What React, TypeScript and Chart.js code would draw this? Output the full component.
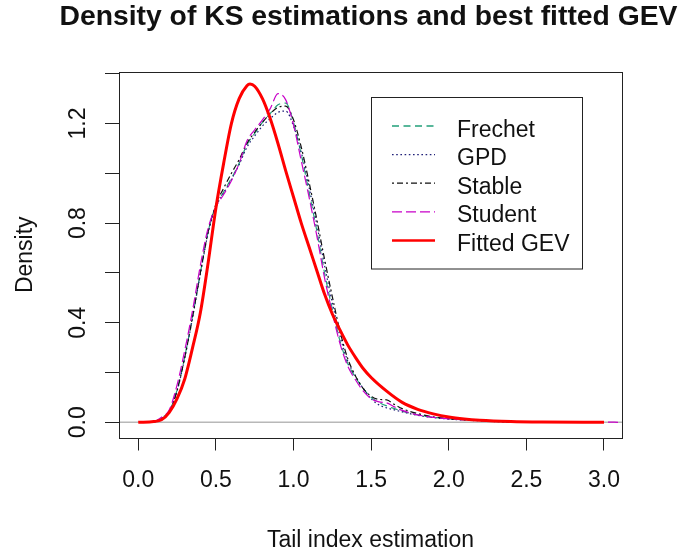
import React, { useEffect, useRef } from "react";
import { Chart, registerables } from "chart.js";

Chart.register(...registerables);

const TITLE = "Density of KS estimations and best fitted GEV";
const X_TITLE = "Tail index estimation";
const Y_TITLE = "Density";

const X_TICKS = [0, 0.5, 1.0, 1.5, 2.0, 2.5, 3.0];
const Y_TICKS = [0, 0.2, 0.4, 0.6, 0.8, 1.0, 1.2, 1.4];
const Y_TICK_LABELS = [0, 0.4, 0.8, 1.2];

const X_MIN = -0.124;
const X_MAX = 3.116;
const Y_MIN = -0.061;
const Y_MAX = 1.407;

const SERIES_NAMES = ["Frechet", "GPD", "Stable", "Student", "Fitted GEV"];

const KS_X = [0.10, 0.15, 0.20, 0.25, 0.30, 0.35, 0.40, 0.45, 0.50, 0.55, 0.60, 0.65, 0.70, 0.75, 0.80, 0.85, 0.90, 0.95, 1.00, 1.05, 1.10, 1.15, 1.20, 1.25, 1.30, 1.35, 1.40, 1.45, 1.50, 1.55, 1.60, 1.65, 1.70, 1.80, 1.90, 2.00, 2.10, 2.20, 2.30, 2.40];

const FRECHET = [0, 0.018, 0.045, 0.13, 0.265, 0.425, 0.6, 0.765, 0.87, 0.925, 0.98, 1.04, 1.115, 1.16, 1.205, 1.24, 1.275, 1.282, 1.205, 1.075, 0.925, 0.77, 0.6, 0.455, 0.325, 0.235, 0.18, 0.135, 0.1, 0.08, 0.066, 0.055, 0.045, 0.03, 0.02, 0.014, 0.01, 0.007, 0.004, 0];

const GPD = [0, 0.016, 0.042, 0.125, 0.26, 0.42, 0.595, 0.76, 0.865, 0.92, 0.975, 1.035, 1.105, 1.15, 1.19, 1.22, 1.245, 1.25, 1.19, 1.085, 0.945, 0.795, 0.63, 0.48, 0.345, 0.245, 0.185, 0.135, 0.095, 0.07, 0.058, 0.05, 0.042, 0.028, 0.019, 0.013, 0.009, 0.006, 0.003, 0];

const STABLE = [0, 0.015, 0.043, 0.128, 0.262, 0.425, 0.6, 0.765, 0.875, 0.94, 1.0, 1.055, 1.12, 1.165, 1.205, 1.24, 1.265, 1.27, 1.215, 1.105, 0.965, 0.815, 0.655, 0.505, 0.365, 0.255, 0.185, 0.135, 0.105, 0.092, 0.09, 0.072, 0.055, 0.035, 0.022, 0.015, 0.011, 0.008, 0.005, 0];

const STUDENT_X = [0.10, 0.15, 0.20, 0.25, 0.30, 0.35, 0.40, 0.45, 0.50, 0.55, 0.60, 0.65, 0.70, 0.75, 0.80, 0.85, 0.90, 0.95, 1.00, 1.05, 1.10, 1.15, 1.20, 1.25, 1.30, 1.35, 1.40, 1.45, 1.50, 1.55, 1.60, 1.65, 1.70, 1.80, 1.90, 2.00, 2.10, 2.20, 2.30, 2.40, 2.60, 2.80, 3.00, 3.10];

const STUDENT = [0, 0.02, 0.05, 0.15, 0.29, 0.45, 0.63, 0.78, 0.865, 0.915, 0.97, 1.04, 1.13, 1.175, 1.215, 1.26, 1.32, 1.295, 1.195, 1.05, 0.905, 0.75, 0.58, 0.44, 0.315, 0.225, 0.17, 0.125, 0.095, 0.082, 0.078, 0.062, 0.048, 0.03, 0.02, 0.014, 0.01, 0.007, 0.005, 0.003, 0.002, 0.001, 0.001, 0];

const GEV_X = [0, 0.10, 0.15, 0.20, 0.25, 0.30, 0.35, 0.40, 0.45, 0.50, 0.55, 0.60, 0.65, 0.70, 0.72, 0.75, 0.80, 0.85, 0.90, 0.95, 1.00, 1.05, 1.10, 1.15, 1.20, 1.25, 1.30, 1.35, 1.40, 1.45, 1.50, 1.60, 1.70, 1.80, 1.90, 2.00, 2.10, 2.20, 2.40, 2.60, 3.00];

const GEV = [0, 0.003, 0.01, 0.04, 0.095, 0.175, 0.3, 0.44, 0.64, 0.86, 1.04, 1.2, 1.3, 1.352, 1.359, 1.35, 1.3, 1.22, 1.12, 1.01, 0.905, 0.8, 0.705, 0.61, 0.515, 0.435, 0.37, 0.31, 0.26, 0.215, 0.18, 0.125, 0.08, 0.052, 0.034, 0.021, 0.013, 0.008, 0.003, 0.001, 0];

const COLORS = ["#22a07a", "#202078", "#111111", "#c800c8", "#ff0000"];
const DASHES: number[][] = [[7, 4.5], [1.6, 2.6], [2, 3, 6, 3], [10, 4], []];
const WIDTHS = [1.2, 1.2, 1.2, 1.2, 3];

const FONT = "'Liberation Sans', Arial, sans-serif";

const pts = (xs: number[], ys: number[]) => xs.map((x, i) => ({ x, y: ys[i] }));

const decorPlugin = {
  id: "decor",
  beforeDatasetsDraw(chart: any) {
    const { ctx, chartArea, scales } = chart;
    const y0 = scales.y.getPixelForValue(0);
    ctx.save();
    ctx.beginPath();
    ctx.rect(chartArea.left, chartArea.top, chartArea.right - chartArea.left, chartArea.bottom - chartArea.top);
    ctx.clip();
    ctx.strokeStyle = "#b8b8b8";
    ctx.lineWidth = 1.5;
    ctx.beginPath();
    ctx.moveTo(chartArea.left, y0);
    ctx.lineTo(chartArea.right, y0);
    ctx.stroke();
    ctx.restore();
  },
  afterDraw(chart: any) {
    const { ctx, chartArea, scales } = chart;
    const cx = (chartArea.left + chartArea.right) / 2;
    const cy = (chartArea.top + chartArea.bottom) / 2;
    ctx.save();
    ctx.strokeStyle = "#222";
    ctx.lineWidth = 1;
    ctx.setLineDash([]);
    ctx.strokeRect(
      Math.round(chartArea.left) + 0.5,
      Math.round(chartArea.top) + 0.5,
      Math.round(chartArea.right - chartArea.left),
      Math.round(chartArea.bottom - chartArea.top)
    );
    ctx.fillStyle = "#111";
    ctx.font = `bold 28.3px ${FONT}`;
    ctx.textAlign = "center";
    ctx.textBaseline = "alphabetic";
    ctx.fillText(TITLE, cx - 2, 25);
    ctx.font = `23px ${FONT}`;
    ctx.fillText(X_TITLE, cx, 546.5);
    ctx.save();
    ctx.translate(32, cy);
    ctx.rotate(-Math.PI / 2);
    ctx.fillText(Y_TITLE, 0, 0);
    ctx.restore();
    for (const v of Y_TICK_LABELS) {
      const py = scales.y.getPixelForValue(v);
      ctx.save();
      ctx.translate(85, py);
      ctx.rotate(-Math.PI / 2);
      ctx.fillText(v.toFixed(1), 0, 0);
      ctx.restore();
    }
    const lx = 371.5, ly = 97.5, lw = 211, lh = 171.5;
    ctx.fillStyle = "#ffffff";
    ctx.fillRect(lx, ly, lw, lh);
    ctx.strokeStyle = "#222";
    ctx.lineWidth = 1;
    ctx.strokeRect(lx, ly, lw, lh);
    ctx.textAlign = "left";
    SERIES_NAMES.forEach((name, i) => {
      const base = 136.5 + i * 28.6;
      const yl = base - 10.5;
      ctx.strokeStyle = COLORS[i];
      ctx.lineWidth = i === 4 ? 2.5 : 1.3;
      ctx.setLineDash(DASHES[i]);
      ctx.beginPath();
      ctx.moveTo(392, yl);
      ctx.lineTo(435, yl);
      ctx.stroke();
      ctx.setLineDash([]);
      ctx.fillStyle = "#111";
      ctx.fillText(name, 457, base);
    });
    ctx.restore();
  },
};

export default function App() {
  const ref = useRef<HTMLCanvasElement | null>(null);
  useEffect(() => {
    if (!ref.current) return;
    const seriesX = [KS_X, KS_X, KS_X, STUDENT_X, GEV_X];
    const seriesY = [FRECHET, GPD, STABLE, STUDENT, GEV];
    const datasets = SERIES_NAMES.map((name, i) => ({
      label: name,
      data: pts(seriesX[i], seriesY[i]),
      borderColor: COLORS[i],
      borderWidth: WIDTHS[i],
      borderDash: DASHES[i],
      pointRadius: 0,
      fill: false,
      cubicInterpolationMode: "monotone" as const,
      order: i === 4 ? 0 : 5 - i,
    }));
    const chart = new Chart(ref.current, {
      type: "line",
      data: { datasets },
      plugins: [decorPlugin],
      options: {
        responsive: false,
        animation: false,
        layout: { padding: { left: 0, right: 63, top: 72, bottom: 0 } },
        plugins: {
          legend: { display: false },
          tooltip: { enabled: false },
          title: { display: false },
        },
        scales: {
          x: {
            type: "linear",
            min: X_MIN,
            max: X_MAX,
            afterBuildTicks: (s: any) => {
              s.ticks = X_TICKS.map((v) => ({ value: v }));
            },
            afterFit: (s: any) => {
              s.height = 113.5;
            },
            grid: {
              display: true,
              drawOnChartArea: false,
              drawTicks: true,
              tickLength: 13,
              color: "#222",
              lineWidth: 1,
            },
            border: { display: false },
            ticks: {
              autoSkip: false,
              maxRotation: 0,
              minRotation: 0,
              padding: 16,
              color: "#111",
              font: { family: FONT, size: 23 },
              callback: (v: any) => Number(v).toFixed(1),
            },
          },
          y: {
            type: "linear",
            min: Y_MIN,
            max: Y_MAX,
            afterBuildTicks: (s: any) => {
              s.ticks = Y_TICKS.map((v) => ({ value: v }));
            },
            afterFit: (s: any) => {
              s.width = 119;
            },
            grid: {
              display: true,
              drawOnChartArea: false,
              drawTicks: true,
              tickLength: 14,
              color: "#222",
              lineWidth: 1,
            },
            border: { display: false },
            ticks: { display: false },
          },
        },
      },
    });
    return () => chart.destroy();
  }, []);
  return (
    <div style={{ position: "fixed", left: 0, top: 0, width: 685, height: 551, background: "#fff" }}>
      <canvas ref={ref} width={685} height={551} style={{ display: "block" }} />
    </div>
  );
}
